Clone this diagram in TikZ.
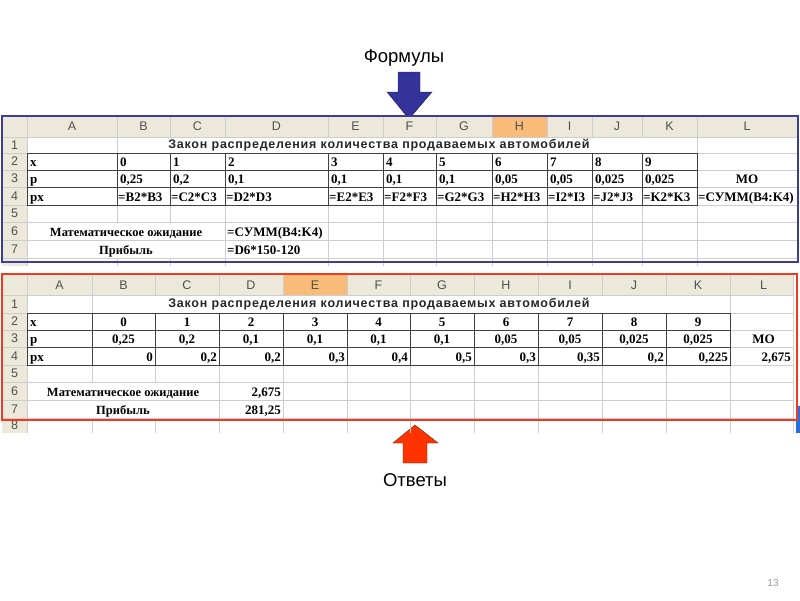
\documentclass[tikz,border=0pt]{standalone}
\usepackage{fontspec}
\setmainfont{Liberation Serif}
\newfontfamily\arialfont{Liberation Sans}
\newfontfamily\bannerfont{Liberation Sans}[LetterSpace=6]
\usepackage{graphicx}

\definecolor{frameblue}{RGB}{60,60,155}
\definecolor{framered}{RGB}{238,58,36}
\definecolor{arrowblue}{RGB}{51,51,153}
\definecolor{arrowred}{RGB}{255,51,0}
\definecolor{headfill}{RGB}{236,233,218}
\definecolor{headsel}{RGB}{248,188,120}
\definecolor{headtext}{RGB}{80,80,80}
\definecolor{gridgrey}{RGB}{205,205,205}
\definecolor{scrollblue}{RGB}{40,110,220}

\newcommand\cellfont{\bfseries\fontsize{13}{15}\selectfont}
\newcommand\labfont{\bfseries\fontsize{12.5}{14}\selectfont}
\newcommand\headfont{\arialfont\fontsize{12.5}{14}\selectfont}

\begin{document}
\begin{tikzpicture}[x=1pt,y=-1pt,
   gridline/.style={draw=gridgrey,line width=0.6pt},
   cellrule/.style={draw=black!75,line width=0.9pt},
   head/.style={font=\headfont,text=headtext,inner sep=0pt},
   cell/.style={font=\cellfont,inner sep=0pt,anchor=base west},
   midcell/.style={font=\cellfont,inner sep=0pt,anchor=base},
   rightcell/.style={font=\cellfont,inner sep=0pt,anchor=base east},
   lab/.style={font=\labfont,inner sep=0pt,anchor=base},
   banner/.style={font=\bannerfont\bfseries\fontsize{12.5}{14}\selectfont,text=black!85,inner sep=0pt},
   bigtext/.style={font=\arialfont\fontsize{18.5}{20}\selectfont,inner sep=0pt}]
   \useasboundingbox (0,0) rectangle (800,600);
   \fill[white] (0,0) rectangle (800,600);

   % labels and arrows
   \node[bigtext] (formulas) at (404,58) {Формулы};
   \filldraw[fill=arrowblue,draw=arrowblue!60!black] (398,72) -- (420,72) -- (420,92) -- (432,92)
      -- (409,119) -- (387,92) -- (398,92) -- cycle;
   \node[bigtext] (answers) at (415,480) {Ответы};
   \filldraw[fill=arrowred,draw=arrowred!50!black] (415,425) -- (438,443) -- (427,443) -- (427,463)
      -- (403,463) -- (403,443) -- (393,443) -- cycle;

   % top sheet: formulas
   \fill[headfill] (2,116) rectangle (797,137);
   \fill[headfill] (2,137) rectangle (27,266);
   \fill[headsel] (492,116) rectangle (547,137);
   \foreach \x in {27,117,170,225,328,383,436,492,547,592,642,697}
      \draw[gridline] (\x,116) -- (\x,266);
   \foreach \y in {137,153,170,187,205,222,240,258}
      \draw[gridline] (2,\y) -- (797,\y);
   \fill[white] (117.5,137.5) rectangle (696.5,152.5);
   \fill[white] (27.5,222.5) rectangle (224.5,239.5);
   \fill[white] (27.5,240.5) rectangle (224.5,257.5);
   \draw[cellrule] (27,153) rectangle (697,205);
   \draw[cellrule] (27,170) -- (697,170) (27,187) -- (697,187);
   \foreach \x in {117,170,225,328,383,436,492,547,592,642}
      \draw[cellrule] (\x,153) -- (\x,205);

   \foreach \c/\x in {A/72,B/143.5,C/197.5,D/276.5,E/355.5,F/409.5,G/464,H/519.5,I/569.5,J/617,K/669.5,L/747}
      \node[head] (tc\c) at (\x,126.5) {\c};
   \foreach \r/\y in {1/145,2/161.5,3/178.5,4/196,5/213.5,6/231,7/249}
      \node[head] (tr\r) at (14.5,\y) {\r};

   \node[banner] (ttitle) at (379,145) {Закон распределения количества продаваемых автомобилей};
   \foreach \x/\v [count=\i] in {30/x,120/0,173/1,228/2,331/3,386/4,439/5,495/6,550/7,595/8,645/9}
      \node[cell] (t2-\i) at (\x,166) {\v};
   \foreach \x/\v [count=\i] in {30/p,120/{0,25},173/{0,2},228/{0,1},331/{0,1},386/{0,1},439/{0,1},495/{0,05},550/{0,05},595/{0,025},645/{0,025}}
      \node[cell] (t3-\i) at (\x,183) {\v};
   \node[midcell] (tmo) at (747,183) {МО};
   \foreach \x/\v [count=\i] in {30/px,118/{=B2*B3},171/{=C2*C3},226/{=D2*D3},329/{=E2*E3},384/{=F2*F3},437/{=G2*G3},493/{=H2*H3},548/{=I2*I3},593/{=J2*J3},643/{=K2*K3},698/{=СУММ(B4:K4)}}
      \node[cell] (t4-\i) at (\x,201) {\v};
   \node[lab] (tmean) at (126,236) {Математическое ожидание};
   \node[cell] (tmeanv) at (227,236) {=СУММ(B4:K4)};
   \node[lab] (tprofit) at (126,254) {Прибыль};
   \node[cell] (tprofitv) at (227,254) {=D6*150-120};

   \draw[frameblue,line width=2.5pt] (2,116) rectangle (798,262);

   % bottom sheet: answers
   \fill[headfill] (2,275) rectangle (793,295);
   \fill[headfill] (2,295) rectangle (27,433);
   \fill[headsel] (283,275) rectangle (347,295);
   \foreach \x in {27,92,155,219,283,347,410,474,538,602,666,730,793}
      \draw[gridline] (\x,275) -- (\x,433);
   \foreach \y in {295,313,330,347,365,382,400,418}
      \draw[gridline] (2,\y) -- (793,\y);
   \fill[white] (92.5,295.5) rectangle (729.5,312.5);
   \fill[white] (27.5,382.5) rectangle (218.5,399.5);
   \fill[white] (27.5,400.5) rectangle (218.5,417.5);
   \draw[cellrule] (27,313) rectangle (730,365);
   \draw[cellrule] (27,330) -- (730,330) (27,347) -- (730,347);
   \foreach \x in {92,155,219,283,347,410,474,538,602,666}
      \draw[cellrule] (\x,313) -- (\x,365);
   \fill[scrollblue] (796,406) rectangle (800,433);

   \foreach \c/\x in {A/59.5,B/123.5,C/187,D/251,E/315,F/378.5,G/442,H/506,I/570,J/634,K/698,L/763.5}
      \node[head] (bc\c) at (\x,285.5) {\c};
   \foreach \r/\y in {1/304,2/321.5,3/338.5,4/356,5/373.5,6/391,7/409,8/425.5}
      \node[head] (br\r) at (14.5,\y) {\r};

   \node[banner] (btitle) at (379,304) {Закон распределения количества продаваемых автомобилей};
   \node[cell] (bx) at (30,326) {x};
   \foreach \x/\v [count=\i] in {123.5/0,187/1,251/2,315/3,378.5/4,442/5,506/6,570/7,634/8,698/9}
      \node[midcell] (b2-\i) at (\x,326) {\v};
   \node[cell] (bp) at (30,343) {p};
   \foreach \x/\v [count=\i] in {123.5/{0,25},187/{0,2},251/{0,1},315/{0,1},378.5/{0,1},442/{0,1},506/{0,05},570/{0,05},634/{0,025},698/{0,025}}
      \node[midcell] (b3-\i) at (\x,343) {\v};
   \node[midcell] (bmo) at (763.5,343) {МО};
   \node[cell] (bpx) at (30,361) {px};
   \foreach \x/\v [count=\i] in {153/0,217/{0,2},281/{0,2},345/{0,3},408/{0,4},472/{0,5},536/{0,3},600/{0,35},664/{0,2},728/{0,225},791/{2,675}}
      \node[rightcell] (b4-\i) at (\x,361) {\v};
   \node[lab] (bmean) at (123,396) {Математическое ожидание};
   \node[rightcell] (bmeanv) at (281,396) {2,675};
   \node[lab] (bprofit) at (123,414) {Прибыль};
   \node[rightcell] (bprofitv) at (281,414) {281,25};

   \draw[framered,line width=2.5pt] (2,274) rectangle (797,420);

   \node[font=\arialfont\fontsize{10}{12}\selectfont,text=black!40] (pnum) at (773,583) {13};
\end{tikzpicture}
\end{document}
